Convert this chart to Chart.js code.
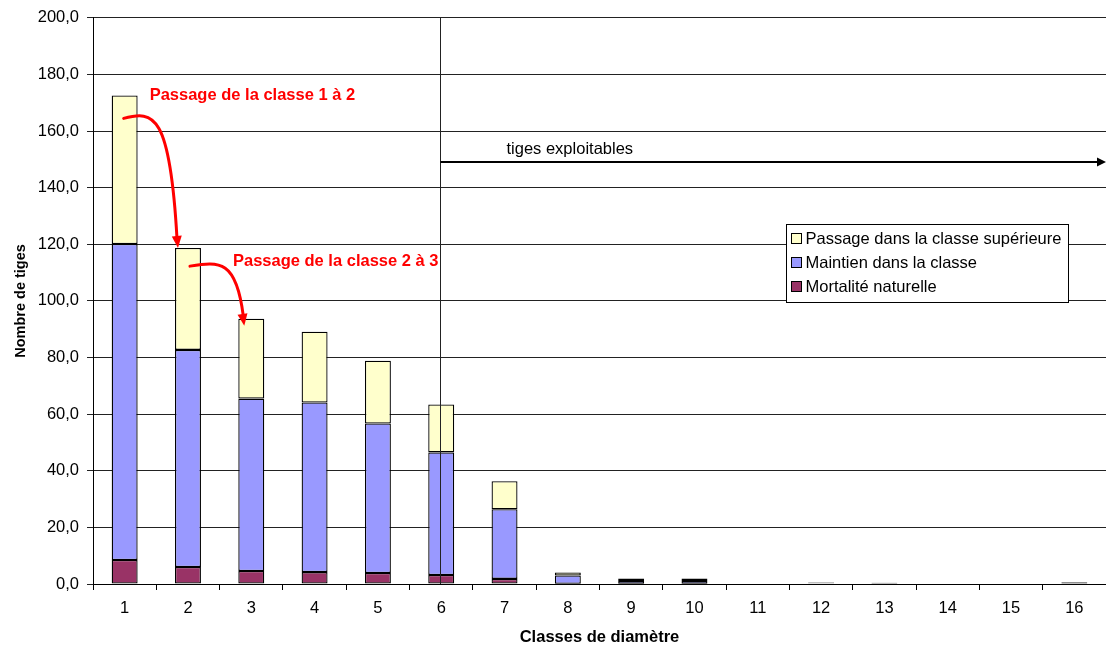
<!DOCTYPE html>
<html>
<head>
<meta charset="utf-8">
<script src="https://cdn.jsdelivr.net/npm/chart.js@4.4.1/dist/chart.umd.min.js"></script>
<style>
  html, body { margin: 0; padding: 0; background: #fff; }
  #wrap { width: 1106px; height: 651px; position: relative; }
</style>
</head>
<body>
<div id="wrap"><canvas id="diamChart"></canvas></div>
<script>
const classes = ["1", "2", "3", "4", "5", "6", "7", "8", "9", "10", "11", "12", "13", "14", "15", "16"];

const mortalite = [8.5, 6.0, 4.6, 4.2, 3.9, 3.2, 1.8, 0.1, 0.1, 0.1, 0, 0, 0, 0, 0, 0];
const maintien = [111.6, 76.7, 60.9, 59.9, 52.8, 43.3, 24.6, 2.9, 1.0, 1.0, 0, 0.3, 0.2, 0, 0, 0.5];
const passage = [52.5, 36.0, 28.2, 25.0, 22.2, 16.9, 9.9, 1.1, 0.8, 0.8, 0, 0.2, 0.2, 0, 0, 0.2];

const seriesNames = ["Mortalité naturelle", "Maintien dans la classe", "Passage dans la classe supérieure"];
const seriesColors = ["#993366", "#9999FF", "#FFFFCC"];

const exploitStart = 5;      // index of class 6
const exploitLevel = 149;    // height of the "tiges exploitables" arrow

const totals = classes.map((c, i) => mortalite[i] + maintien[i] + passage[i]);

const FONT = "'Liberation Sans', Arial, sans-serif";

function fmt(v) {
    return v.toFixed(1).replace(".", ",");
}

function arrowHead(ctx, x, y, angle, len, half) {
    ctx.save();
    ctx.translate(x, y);
    ctx.rotate(angle);
    ctx.beginPath();
    ctx.moveTo(0, 0);
    ctx.lineTo(-len, -half);
    ctx.lineTo(-len, half);
    ctx.closePath();
    ctx.fill();
    ctx.restore();
}

const extras = {
    id: "extras",
    afterDatasetsDraw(chart) {
        const ctx = chart.ctx;
        const x = chart.scales.x;
        const y = chart.scales.y;
        const area = chart.chartArea;

        ctx.save();

        // vertical separator at class 6
        const xs = Math.round(x.getPixelForValue(exploitStart)) - 0.5;
        ctx.strokeStyle = "#222";
        ctx.lineWidth = 1;
        ctx.beginPath();
        ctx.moveTo(xs, area.top);
        ctx.lineTo(xs, area.bottom);
        ctx.stroke();

        // "tiges exploitables" arrow
        const ya = Math.round(y.getPixelForValue(exploitLevel));
        ctx.strokeStyle = "#000";
        ctx.fillStyle = "#000";
        ctx.lineWidth = 2;
        ctx.beginPath();
        ctx.moveTo(xs, ya);
        ctx.lineTo(area.right - 6, ya);
        ctx.stroke();
        arrowHead(ctx, area.right, ya, 0, 9, 4.5);

        ctx.font = "16.5px " + FONT;
        ctx.textAlign = "left";
        ctx.textBaseline = "alphabetic";
        ctx.fillText("tiges exploitables", xs + 66, ya - 8);

        // red transition arrows
        ctx.strokeStyle = "#FF0000";
        ctx.fillStyle = "#FF0000";
        ctx.lineWidth = 3;
        ctx.lineCap = "round";

        const c1 = x.getPixelForValue(0);
        const c2 = x.getPixelForValue(1);
        const c3 = x.getPixelForValue(2);

        // class 1 -> 2
        let sx = c1 - 1, sy = y.getPixelForValue(164.5);
        let ex = c2 - 10, ey = y.getPixelForValue(totals[1]);
        ctx.beginPath();
        ctx.moveTo(sx, sy);
        ctx.bezierCurveTo(sx + 30, sy - 8, ex - 8, sy - 5, ex - 1, ey - 10);
        ctx.stroke();
        arrowHead(ctx, ex, ey, Math.atan2(10, 1), 12, 5);

        // class 2 -> 3
        sx = c2 + 2; sy = y.getPixelForValue(112.3);
        ex = c3 - 7; ey = y.getPixelForValue(totals[2] - 2.5);
        ctx.beginPath();
        ctx.moveTo(sx, sy);
        ctx.bezierCurveTo(sx + 30, sy - 5, ex - 8, sy - 6, ex - 1, ey - 10);
        ctx.stroke();
        arrowHead(ctx, ex, ey, Math.atan2(10, 1.5), 12, 5);

        ctx.font = "bold 16.5px " + FONT;
        ctx.fillText("Passage de la classe 1 à 2", c1 + 25, y.getPixelForValue(171.1));
        ctx.fillText("Passage de la classe 2 à 3", c2 + 45, y.getPixelForValue(112.3));

        // legend box
        const lx = area.right - 319.5, ly = Math.round(area.top) + 206.5, lw = 282, lh = 78;
        ctx.fillStyle = "#fff";
        ctx.fillRect(lx, ly, lw, lh);
        ctx.strokeStyle = "#000";
        ctx.lineWidth = 1;
        ctx.strokeRect(lx, ly, lw, lh);

        ctx.font = "16.5px " + FONT;
        ctx.textBaseline = "middle";
        for (let k = 0; k < 3; k++) {
            const s = 2 - k;
            const rowY = ly + 14 + k * 24;
            ctx.fillStyle = seriesColors[s];
            ctx.fillRect(lx + 5, rowY - 5, 10, 10);
            ctx.strokeRect(lx + 5, rowY - 5, 10, 10);
            ctx.fillStyle = "#000";
            ctx.fillText(seriesNames[s], lx + 19, rowY + 1);
        }

        ctx.restore();
    }
};

const ctxEl = document.getElementById("diamChart");

new Chart(ctxEl, {
    type: "bar",
    data: {
        labels: classes,
        datasets: [
            { label: seriesNames[0], data: mortalite, backgroundColor: seriesColors[0] },
            { label: seriesNames[1], data: maintien, backgroundColor: seriesColors[1] },
            { label: seriesNames[2], data: passage, backgroundColor: seriesColors[2] }
        ].map(d => Object.assign(d, {
            borderColor: "#000",
            borderWidth: 1.3,
            borderSkipped: false,
            barPercentage: 0.41,
            categoryPercentage: 1
        }))
    },
    options: {
        responsive: true,
        maintainAspectRatio: false,
        animation: false,
        layout: { padding: { top: 15, right: 0, left: 0, bottom: 0 } },
        plugins: {
            legend: { display: false },
            tooltip: { enabled: false }
        },
        scales: {
            x: {
                stacked: true,
                grid: {
                    offset: true,
                    drawOnChartArea: false,
                    color: "#000",
                    tickLength: 6
                },
                border: { color: "#000" },
                ticks: {
                    color: "#000",
                    font: { family: FONT, size: 16.5 },
                    padding: 9
                },
                title: {
                    display: true,
                    text: "Classes de diamètre",
                    color: "#000",
                    font: { family: FONT, size: 16.5, weight: "bold" },
                    padding: { top: 0, bottom: 4 }
                },
                afterFit(scale) { scale.height = 67; }
            },
            y: {
                stacked: true,
                min: 0,
                max: 200,
                ticks: {
                    stepSize: 20,
                    color: "#000",
                    font: { family: FONT, size: 16.5 },
                    padding: 8,
                    callback: v => fmt(v)
                },
                grid: {
                    color: "#222",
                    tickLength: 6
                },
                border: { color: "#000" },
                title: {
                    display: true,
                    text: "Nombre de tiges",
                    color: "#000",
                    font: { family: FONT, size: 14.5, weight: "bold" },
                    padding: { top: 12, bottom: 0 }
                },
                afterFit(scale) { scale.width = 93; }
            }
        }
    },
    plugins: [extras]
});
</script>
</body>
</html>
